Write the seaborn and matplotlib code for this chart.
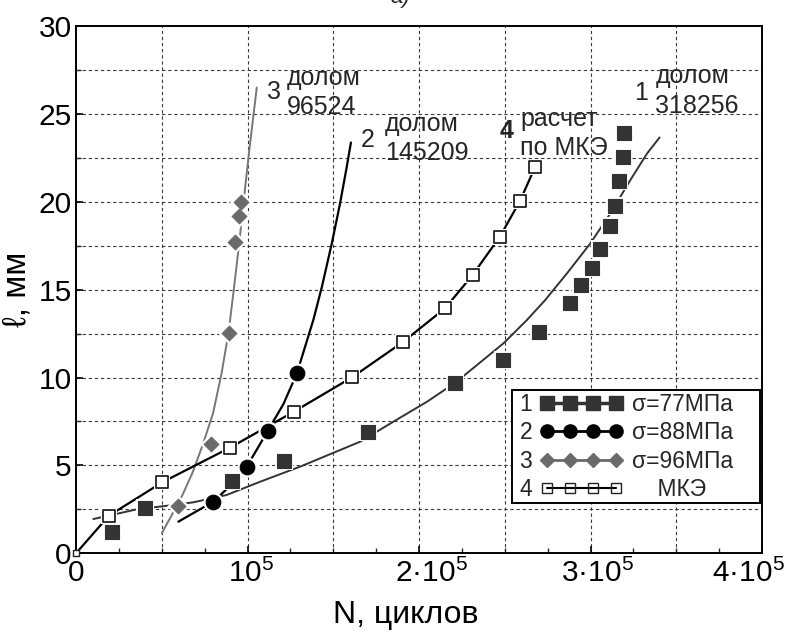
import numpy as np
import pandas as pd
import matplotlib
matplotlib.use('Agg')
import matplotlib.pyplot as plt
import matplotlib.transforms as mtransforms
import seaborn as sns
from matplotlib.lines import Line2D
from matplotlib.patches import Rectangle

# ---------------- data ----------------
# measured points
n1 = [20800, 40200, 90800, 121500, 170500, 221100, 248800, 269700, 288200,
      294600, 300800, 305300, 311200, 314100, 316400, 318900, 319300]
l1 = [1.23, 2.56, 4.13, 5.25, 6.92, 9.71, 11.0, 12.58, 14.23,
      15.27, 16.26, 17.30, 18.62, 19.76, 21.18, 22.53, 23.93]
n2 = [80100, 99600, 111800, 128800]
l2 = [2.94, 4.93, 6.96, 10.24]
n3 = [59700, 78800, 89000, 92500, 94900, 96000]
l3 = [2.69, 6.20, 12.56, 17.70, 19.20, 19.98]
n4 = [0, 19200, 50300, 89800, 127100, 161100, 190900, 215200, 231300,
      247200, 258900, 267800]
l4 = [0, 2.14, 4.04, 6.01, 8.06, 10.02, 12.04, 13.94, 15.84,
      18.02, 20.05, 22.0]

# approximating curves (traced vertices)
c1n = [10100, 35400, 56800, 68400, 87900, 107300, 130700, 165700, 185100, 204600,
       221100, 233800, 249300, 262900, 273600, 286300, 299900, 311600, 323200,
       333000, 340300]
c1l = [1.95, 2.50, 2.75, 2.90, 3.32, 4.07, 4.93, 6.35, 7.49, 8.62,
       9.70, 10.71, 11.95, 13.27, 14.41, 15.93, 17.63, 19.34, 21.23,
       22.75, 23.66]
c2n = [59700, 80100, 90000, 99600, 111800, 121000, 128800, 138400, 143400, 149200,
       154000, 157900, 160300]
c2l = [1.80, 2.94, 3.85, 4.93, 6.96, 8.5, 10.24, 13.28, 15.17, 17.65,
       19.92, 22.0, 23.37]
c3n = [50000, 56000, 62000, 68000, 74000, 80000, 85000, 89000, 92000, 95000,
       98500, 101000, 105400]
c3l = [1.14, 2.2, 3.3, 4.6, 6.2, 8.0, 10.3, 12.6, 15.0, 17.5,
       20.7, 22.9, 26.5]

legend_nums = ['1', '2', '3', '4']
legend_labels = ['σ=77МПа', 'σ=88МПа', 'σ=96МПа', '    МКЭ']

xticks = [0, 100000, 200000, 300000, 400000]
xticklabels = ['0', r'$\mathregular{10^5}$', r'$\mathregular{2·10^5}$',
               r'$\mathregular{3·10^5}$', r'$\mathregular{4·10^5}$']
yticks = [0, 5, 10, 15, 20, 25, 30]

# ---------------- style ----------------
sns.set_theme(style='white')
plt.rcParams['font.family'] = ['Liberation Sans', 'DejaVu Sans']
plt.rcParams['mathtext.fontset'] = 'custom'
plt.rcParams['mathtext.rm'] = 'Liberation Sans'
plt.rcParams['mathtext.it'] = 'Liberation Sans:italic'
plt.rcParams['axes.unicode_minus'] = False

DPI = 100
fig = plt.figure(figsize=(7.94, 6.35), dpi=DPI)
ax = fig.add_axes([76 / 794, 1 - 553.3 / 635, (762 - 76) / 794, (553.3 - 26) / 635])
ax.set_facecolor('white')

c_dark = '#333333'
c_gray = '#6a6a6a'
c_line3 = '#777777'

# grid
for gx in np.arange(50000, 400000, 50000):
    ax.axvline(gx, color='#3a3a3a', lw=0.8, ls=(0, (3, 2.5)), zorder=0)
for gy in np.arange(2.5, 30, 2.5):
    ax.axhline(gy, color='#3a3a3a', lw=0.8, ls=(0, (3, 2.5)), zorder=0)

# curves
def curve(xs, ys, color, lw, z=2):
    df = pd.DataFrame({'N': xs, 'l': ys})
    sns.lineplot(data=df, x='N', y='l', ax=ax, estimator=None, sort=False,
                 color=color, lw=lw, zorder=z, legend=False)

curve(c1n, c1l, c_dark, 1.4)
curve(c2n, c2l, 'black', 1.6)
curve(c3n, c3l, c_line3, 1.4)
curve(n4, l4, 'black', 1.6)

# markers with white halo
def pts(xs, ys, marker, size, face, edge, lw=0.8, z=4):
    df = pd.DataFrame({'N': xs, 'l': ys})
    sns.scatterplot(data=df, x='N', y='l', ax=ax, marker=marker, s=(size + 4) ** 2,
                    color='white', edgecolor='white', linewidth=0, zorder=z - 1, legend=False)
    sns.scatterplot(data=df, x='N', y='l', ax=ax, marker=marker, s=size ** 2,
                    color=face, edgecolor=edge, linewidth=lw, zorder=z, legend=False)

pts(n1, l1, 's', 9.5, c_dark, c_dark)
pts(n2, l2, 'o', 10.5, 'black', 'black')
pts(n3, l3, 'D', 7.5, c_gray, c_gray)
pts(n4[1:], l4[1:], 's', 8.0, 'white', '#222222', lw=1.3)
sns.scatterplot(x=[n4[0]], y=[l4[0]], ax=ax, marker='s', s=25, color='white',
                edgecolor='#222222', linewidth=1.0, zorder=5, legend=False, clip_on=False)

# axes
ax.set_xlim(0, 400000)
ax.set_ylim(0, 30)
ax.set_xticks(xticks)
ax.set_xticklabels(xticklabels)
ax.set_xticks(np.arange(0, 400001, 25000), minor=True)
ax.set_yticks(yticks)
ax.set_yticklabels([str(v) for v in yticks])
ax.set_yticks(np.arange(0, 30.1, 2.5), minor=True)
ax.tick_params(axis='both', which='major', direction='in', length=5, width=1.2,
               labelsize=21.5, colors='black', bottom=True, left=True)
ax.tick_params(axis='x', which='major', pad=4)
ax.tick_params(axis='y', which='major', pad=3)
ax.tick_params(axis='both', which='minor', direction='in', length=3.5, width=1.0,
               bottom=True, left=True)
for sp in ax.spines.values():
    sp.set_visible(True)
    sp.set_color('black')
    sp.set_linewidth(1.4)

# nudge tick labels like the reference
shifts = [0, 4, 12, 7, -14]
for lab, dx in zip(ax.get_xticklabels(), shifts):
    off = mtransforms.ScaledTranslation(dx / DPI, 0, fig.dpi_scale_trans)
    lab.set_transform(lab.get_transform() + off)

ax.set_xlabel('N, циклов', fontsize=23, color='black')
ax.set_ylabel('ℓ, мм', fontsize=24, color='black')
ax.xaxis.set_label_coords((406 - 76) / 686, -0.088)
ax.yaxis.set_label_coords(-0.064, 0.5)

# annotations
ann = 18
ls = 1.28
ax.text(115500, 26.24, '3', fontsize=ann, ha='center', va='center')
ax.text(123100, 26.21, 'долом\n96524', fontsize=ann, ha='left', va='center', linespacing=ls)
ax.text(170200, 23.5, '2', fontsize=ann, ha='center', va='center')
ax.text(180300, 23.6, 'долом\n145209', fontsize=ann, ha='left', va='center', linespacing=ls)
ax.text(251200, 24.0, '4', fontsize=ann, ha='center', va='center', fontweight='bold')
ax.text(259000, 23.9, 'расчет\nпо МКЭ', fontsize=ann, ha='left', va='center', linespacing=ls)
ax.text(329500, 26.2, '1', fontsize=ann, ha='center', va='center')
ax.text(337800, 26.3, 'долом\n318256', fontsize=ann, ha='left', va='center', linespacing=ls)

fig.text(400 / 794, 1 - 3 / 635, 'а)', fontsize=16, style='italic', ha='center', va='baseline')

# legend
handles = [
    Line2D([], [], color=c_dark, lw=2.5, marker='s', ms=9.5, mfc=c_dark, mec=c_dark),
    Line2D([], [], color='black', lw=2.0, marker='o', ms=9.5, mfc='black', mec='black'),
    Line2D([], [], color=c_gray, lw=2.0, marker='D', ms=7.0, mfc=c_gray, mec=c_gray),
    Line2D([], [], color='black', lw=1.5, marker='s', ms=7.5, mfc='none', mec='#222222', mew=1.0),
]
inv = ax.transAxes.inverted()
lcx, lcy = inv.transform((637, 635 - 447))
leg = ax.legend(handles, legend_labels, loc='center', bbox_to_anchor=(lcx, lcy),
                frameon=False, fontsize=16.5, numpoints=4, handlelength=3.6,
                handletextpad=0.4, labelspacing=0.22, borderpad=0.0)
leg.set_zorder(10)

fig.canvas.draw()
r = fig.canvas.get_renderer()
texts = leg.get_texts()
# numbers
for t, num in zip(texts, legend_nums):
    bb = t.get_window_extent(r)
    yc = (bb.y0 + bb.y1) / 2
    xa, ya = inv.transform((511.7 + 14, yc))
    ax.text(xa, ya, num, transform=ax.transAxes, fontsize=16.5, ha='center', va='center', zorder=11)
# frame
x0, y0 = inv.transform((511.7, 635 - 503.3))
x1, y1 = inv.transform((760, 635 - 390))
ax.add_patch(Rectangle((x0, y0), x1 - x0, y1 - y0, transform=ax.transAxes,
                       facecolor='white', edgecolor='black', lw=1.4, zorder=9))

fig.savefig('out.png', dpi=DPI)
